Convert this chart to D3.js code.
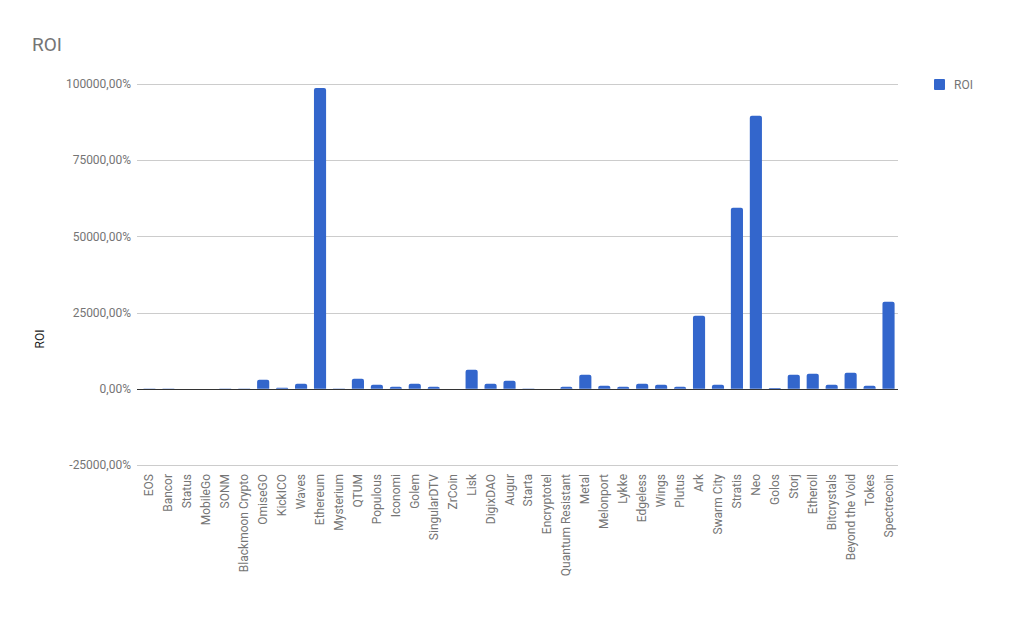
<!DOCTYPE html>
<html><head><meta charset="utf-8">
<script src="https://cdn.jsdelivr.net/npm/d3@7"></script>
<style>body{margin:0;background:#fff;} text{font-family:Roboto,Arial,sans-serif;}</style>
</head><body>
<svg id="c" width="1027" height="635"></svg>
<script>
const categories = ["EOS","Bancor","Status","MobileGo","SONM","Blackmoon Crypto","OmiseGO","KickICO","Waves","Ethereum","Mysterium","QTUM","Populous","Iconomi","Golem","SingularDTV","ZrCoin","Lisk","DigixDAO","Augur","Starta","Encryptotel","Quantum Resistant","Metal","Melonport","Lykke","Edgeless","Wings","Plutus","Ark","Swarm City","Stratis","Neo","Golos","Storj","Etheroll","Bitcrystals","Beyond the Void","Tokes","Spectrecoin"];
const roi = [100,100,20,20,100,100,2950,350,1640,98650,80,3280,1300,650,1640,650,0,6230,1640,2620,100,0,650,4590,1000,650,1640,1300,650,23950,1300,59380,89570,300,4590,4920,1300,5250,1000,28540];
const yTicks = [-25000,0,25000,50000,75000,100000];
const seriesName = "ROI";

const svg = d3.select("#c");
const m = {left:140, right:898, top:84, bottom:465};
const x = d3.scaleBand().domain(categories).range([m.left, m.right]).paddingInner(0.36).paddingOuter(0.18);
const y = d3.scaleLinear().domain([-25000,100000]).range([m.bottom, m.top]);
const fmt = v => v.toFixed(2).replace('.', ',') + '%';

// gridlines
svg.append("g").selectAll("line").data(yTicks).join("line")
  .attr("x1", m.left-3).attr("x2", m.right)
  .attr("y1", d=>Math.round(y(d))+0.5).attr("y2", d=>Math.round(y(d))+0.5)
  .attr("stroke", "#cccccc").attr("stroke-width",1);

// y tick labels
svg.append("g").selectAll("text").data(yTicks).join("text")
  .attr("x", m.left-9).attr("y", d=>y(d)).attr("dy","0.35em")
  .attr("text-anchor","end").attr("font-size",12).attr("fill","#757575")
  .text(fmt);

// bars with slightly rounded tops
const r = 2;
svg.append("g").selectAll("path").data(categories).join("path")
  .attr("fill","#3366cc")
  .attr("d",(c,i)=>{
    const v = roi[i];
    const x0 = x(c), w = x.bandwidth();
    const y0 = y(0), y1 = y(v);
    const h = y0 - y1;
    if (h <= 0) return "";
    const rr = Math.min(r, h);
    return `M${x0},${y0}V${y1+rr}Q${x0},${y1} ${x0+rr},${y1}H${x0+w-rr}Q${x0+w},${y1} ${x0+w},${y1+rr}V${y0}Z`;
  });

// baseline
svg.append("line").attr("x1",m.left-3).attr("x2",m.right)
  .attr("y1",Math.round(y(0))+0.5).attr("y2",Math.round(y(0))+0.5)
  .attr("stroke","#333").attr("stroke-width",1);

// x labels
svg.append("g").selectAll("text").data(categories).join("text")
  .attr("transform", c=>`translate(${x(c)+x.bandwidth()/2+4},${m.bottom+9}) rotate(-90)`)
  .attr("text-anchor","end").attr("font-size",12).attr("fill","#757575")
  .text(c=>c);

// title
svg.append("text").attr("x",32).attr("y",51).attr("font-size",19).attr("fill","#757575").text("ROI");

// y-axis title
svg.append("text").attr("transform","translate(44,339) rotate(-90)")
  .attr("text-anchor","middle").attr("font-size",12).attr("fill","#222").text("ROI");

// legend
svg.append("rect").attr("x",934).attr("y",79).attr("width",11).attr("height",11).attr("rx",1).attr("fill","#3366cc");
svg.append("text").attr("x",954).attr("y",85).attr("dy","0.35em").attr("font-size",12).attr("fill","#757575").text(seriesName);
</script>
</body></html>
